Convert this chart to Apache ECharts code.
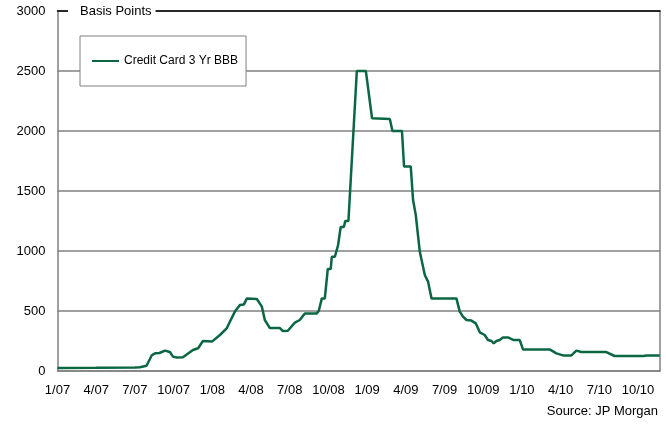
<!DOCTYPE html>
<html>
<head>
<meta charset="utf-8">
<script src="https://cdn.jsdelivr.net/npm/echarts@6/dist/echarts.min.js"></script>
<style>
html,body{margin:0;padding:0;background:#fff;}
#chart{width:666px;height:425px;}
</style>
</head>
<body>
<div id="chart"></div>
<script>
// months since January 2007
var monthIdx = [0, 3, 6, 6.39, 6.9, 7.32, 7.6, 7.9, 8.33, 8.71, 8.95, 9.25, 9.72, 10.5, 10.9, 11.27, 11.97, 12.59, 13.13, 13.36, 13.75, 14.14, 14.45, 14.68, 15.45, 15.84, 16.07, 16.46, 17.24, 17.47, 17.85, 18.4, 18.78, 19.17, 20.1, 20.25, 20.49, 20.72, 20.95, 21.18, 21.26, 21.5, 21.75, 21.95, 22.2, 22.3, 22.55, 23.2, 23.9, 24.38, 25.76, 25.96, 26.7, 26.86, 27.38, 27.56, 27.77, 28.08, 28.47, 28.72, 28.99, 30.92, 31.18, 31.43, 31.7, 32.08, 32.42, 32.73, 33.11, 33.37, 33.63, 33.81, 34.02, 34.28, 34.53, 34.92, 35.36, 35.83, 36.08, 38.15, 38.67, 39.18, 39.83, 40.22, 40.6, 42.54, 43.18, 45.4, 45.66, 46.68];
// Credit Card 3 Yr BBB spread, basis points
var spreadBps = [25, 27, 30, 32, 44, 133, 148, 150, 170, 158, 120, 112, 115, 175, 190, 250, 245, 300, 358, 410, 495, 550, 555, 605, 600, 536, 425, 358, 358, 333, 335, 403, 425, 480, 480, 500, 605, 605, 850, 850, 952, 952, 1050, 1200, 1200, 1250, 1250, 2500, 2500, 2106, 2100, 2000, 2000, 1705, 1705, 1425, 1300, 995, 800, 745, 605, 605, 495, 453, 425, 420, 397, 322, 300, 258, 250, 230, 250, 258, 280, 280, 258, 258, 180, 180, 147, 130, 130, 170, 158, 158, 125, 125, 130, 130];
var xTickLabels = ['1/07','4/07','7/07','10/07','1/08','4/08','7/08','10/08','1/09','4/09','7/09','10/09','1/10','4/10','7/10','10/10'];
var seriesName = 'Credit Card 3 Yr BBB';

var pts = monthIdx.map(function (m, i) { return [m, spreadBps[i]]; });
var FONT = 'Liberation Sans, Arial, sans-serif';
var chart = echarts.init(document.getElementById('chart'), null, {renderer: 'canvas'});
chart.setOption({
  animation: false,
  backgroundColor: '#fff',
  textStyle: {fontFamily: FONT},
  grid: {left: 57.5, right: 6, top: 11, bottom: 54, containLabel: false},
  legend: {
    show: true,
    left: 80, top: 36,
    orient: 'horizontal',
    padding: [19, 8, 19, 12],
    itemWidth: 27, itemHeight: 14, itemGap: 5,
    backgroundColor: '#fff',
    borderColor: '#808080', borderWidth: 1,
    textStyle: {fontFamily: FONT, fontSize: 12, color: '#000'},
    data: [{name: seriesName, icon: 'path://M0,6 L27,6 L27,8 L0,8 Z'}]
  },
  xAxis: [{
    type: 'value', min: 0, max: 46.7, interval: 3,
    axisLine: {show: true, lineStyle: {color: '#808080', width: 1.5}},
    axisTick: {show: false},
    splitLine: {show: false},
    axisLabel: {
      fontFamily: FONT, fontSize: 13, color: '#000', margin: 13,
      formatter: function (v) { var k = Math.round(v / 3); return (Math.abs(v - k * 3) < 1e-6 && xTickLabels[k]) ? xTickLabels[k] : ''; }
    }
  }, {
    type: 'value', min: 0, max: 46.7, position: 'top',
    axisLine: {show: true, onZero: false, lineStyle: {color: '#000', width: 1.5}},
    axisTick: {show: false}, axisLabel: {show: false}, splitLine: {show: false}
  }],
  yAxis: [{
    type: 'value', min: 0, max: 3000, interval: 500,
    axisLine: {show: true, lineStyle: {color: '#808080', width: 1.5}},
    axisTick: {show: false},
    splitLine: {show: true, lineStyle: {color: '#808080', width: 1.5}},
    axisLabel: {fontFamily: FONT, fontSize: 13, color: '#000', margin: 12,
      formatter: function (v) { return String(v); }}
  }, {
    type: 'value', min: 0, max: 3000, position: 'right',
    axisLine: {show: true, onZero: false, lineStyle: {color: '#808080', width: 1.5}},
    axisTick: {show: false}, axisLabel: {show: false}, splitLine: {show: false}
  }],
  series: [{
    name: seriesName,
    type: 'line',
    data: pts,
    symbol: 'none',
    z: 3,
    lineStyle: {color: '#0b6642', width: 2.5},
    itemStyle: {color: '#0b6642'}
  }],
  graphic: [{
    type: 'text', left: 68, top: 4, z: 10,
    style: {text: 'Basis Points', fontFamily: FONT, fontSize: 13, fill: '#000',
      backgroundColor: '#fff', padding: [1, 4, 1, 12]}
  }, {
    type: 'text', right: 8, top: 405, z: 10,
    style: {text: 'Source: JP Morgan', fontFamily: FONT, fontSize: 13, fill: '#000'}
  }]
});
</script>
</body>
</html>
